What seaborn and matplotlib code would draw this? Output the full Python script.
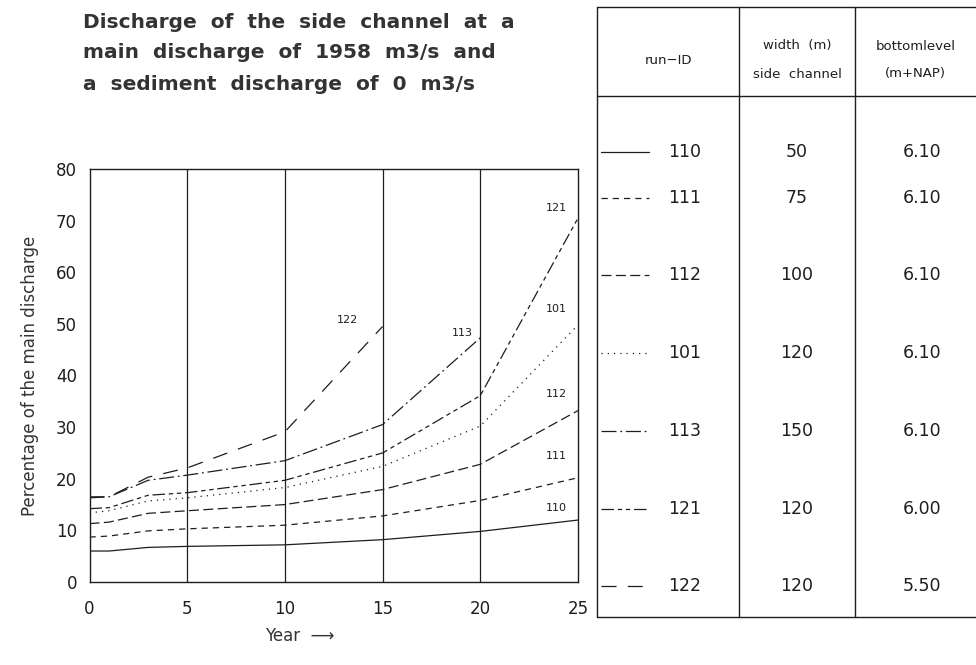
import numpy as np
import pandas as pd
import matplotlib
matplotlib.use("Agg")
import matplotlib.pyplot as plt
from matplotlib.lines import Line2D
import seaborn as sns

# ---------------- data ----------------
years_full = [0, 1, 3, 5, 10, 15, 20, 25]
run_110 = [6.0, 6.0, 6.7, 6.9, 7.2, 8.2, 9.8, 12.0]
run_111 = [8.7, 8.9, 9.9, 10.3, 11.0, 12.8, 15.8, 20.2]
run_112 = [11.3, 11.6, 13.3, 13.8, 15.0, 17.9, 22.8, 33.2]
run_101 = [13.4, 13.8, 15.7, 16.3, 18.3, 22.4, 30.2, 49.8]
run_121 = [14.2, 14.4, 16.8, 17.3, 19.7, 25.0, 36.1, 70.5]
years_113 = [0, 1, 3, 5, 10, 15, 20]
run_113 = [16.5, 16.5, 19.7, 20.7, 23.5, 30.5, 47.3]
years_122 = [0, 1, 3, 5, 10, 15]
run_122 = [16.3, 16.5, 20.3, 22.1, 29.1, 49.5]

run_ids = ["110", "111", "112", "101", "113", "121", "122"]
widths = ["50", "75", "100", "120", "150", "120", "120"]
bottomlevels = ["6.10", "6.10", "6.10", "6.10", "6.10", "6.00", "5.50"]

title_lines = ["Discharge  of  the  side  channel  at  a",
               "main  discharge  of  1958  m3/s  and",
               "a  sediment  discharge  of  0  m3/s"]

series = {
    "110": (years_full, run_110),
    "111": (years_full, run_111),
    "112": (years_full, run_112),
    "101": (years_full, run_101),
    "113": (years_113, run_113),
    "121": (years_full, run_121),
    "122": (years_122, run_122),
}
rows = []
for rid, (xs, ys) in series.items():
    for x, y in zip(xs, ys):
        rows.append({"run": rid, "year": x, "pct": y})
df = pd.DataFrame(rows)

# ---------------- style ----------------
sns.set_theme(style="white")
plt.rcParams["font.family"] = ["DejaVu Sans"]
ink = "#1e1e1e"

dash_map = {
    "110": "",
    "111": (5, 4),
    "112": (8, 3.5),
    "101": (1, 4),
    "113": (12, 3, 1.5, 3),
    "121": (10, 3, 3.5, 3, 3.5, 3),
    "122": (12, 9),
}

fig = plt.figure(figsize=(9.76, 6.65), dpi=100)
W, H = 976, 665
ax = fig.add_axes([89.5 / W, 1 - 582 / H, (578 - 89.5) / W, (582 - 169) / H])

sns.lineplot(data=df, x="year", y="pct", style="run", style_order=run_ids,
             dashes=dash_map, color=ink, linewidth=0.9, ax=ax, legend=False,
             estimator=None, sort=True)

ax.set_xlim(0, 25)
ax.set_ylim(0, 80)
ax.set_xticks([0, 5, 10, 15, 20, 25])
ax.set_yticks(np.arange(0, 81, 10))
ax.tick_params(axis="x", length=0, pad=13, labelsize=12, colors=ink)
ax.tick_params(axis="y", direction="in", length=4, width=0.8, pad=9, labelsize=12, colors=ink)
for x in [5, 10, 15, 20]:
    ax.axvline(x, color=ink, linewidth=0.9)
for s in ax.spines.values():
    s.set_visible(True)
    s.set_color(ink)
    s.set_linewidth(1.0)
ax.set_xlabel("")
ax.set_ylabel("Percentage of the main discharge", fontsize=12, color="#333333", labelpad=12)

# curve labels
label_pos = {"122": (13.2, 50.8), "113": (19.1, 48.2), "121": (23.9, 72.5),
             "101": (23.9, 52.9), "112": (23.9, 36.4), "111": (23.9, 24.4),
             "110": (23.9, 14.3)}
for rid, (lx, ly) in label_pos.items():
    ax.text(lx, ly, rid, fontsize=8, color=ink, ha="center", va="center")

# x label with arrow
fig.text(300 / W, 1 - 636 / H, "Year  \u27f6", fontsize=12, color="#333333",
         ha="center", va="center", family=["DejaVu Sans"])

# title
for i, line in enumerate(title_lines):
    fig.text(83 / W, 1 - (22 + 31 * i) / H, line, fontsize=14.5, fontweight="bold",
             color="#333333", ha="left", va="center")

# ---------------- table ----------------
def fline(x0, y0, x1, y1, **kw):
    fig.add_artist(Line2D([x0 / W, x1 / W], [1 - y0 / H, 1 - y1 / H],
                          transform=fig.transFigure, color=ink, linewidth=1.0, **kw))

tl, c1, c2, tr = 597, 739, 855, 976
ttop, thead, tbot = 7, 96, 617
fline(tl, ttop, tr, ttop)
fline(tl, thead, tr, thead)
fline(tl, tbot, tr, tbot)
for xv in (tl, c1, c2):
    fline(xv, ttop, xv, tbot)

hs = 9.5
fig.text((tl + c1) / 2 / W, 1 - 60 / H, "run\u2212ID", fontsize=hs, color=ink, ha="center", va="center")
fig.text((c1 + c2) / 2 / W, 1 - 46 / H, "width  (m)", fontsize=hs, color=ink, ha="center", va="center")
fig.text((c1 + c2) / 2 / W, 1 - 74 / H, "side  channel", fontsize=hs, color=ink, ha="center", va="center")
fig.text((c2 + tr) / 2 / W, 1 - 46 / H, "bottomlevel", fontsize=hs, color=ink, ha="center", va="center")
fig.text((c2 + tr) / 2 / W, 1 - 74 / H, "(m+NAP)", fontsize=hs, color=ink, ha="center", va="center")

row_y = [152, 198, 275, 353, 431, 509, 586]
for rid, wd, bl, yv in zip(run_ids, widths, bottomlevels, row_y):
    d = dash_map[rid]
    kw = {}
    if d:
        kw["dashes"] = d
    fig.add_artist(Line2D([601 / W, 649 / W], [1 - yv / H, 1 - yv / H],
                          transform=fig.transFigure, color=ink, linewidth=0.9, **kw))
    fig.text(668 / W, 1 - yv / H, rid, fontsize=12.5, color=ink, ha="left", va="center")
    fig.text(797 / W, 1 - yv / H, wd, fontsize=12.5, color=ink, ha="center", va="center")
    fig.text(922 / W, 1 - yv / H, bl, fontsize=12.5, color=ink, ha="center", va="center")

fig.savefig("out.png", dpi=100, facecolor="white")
